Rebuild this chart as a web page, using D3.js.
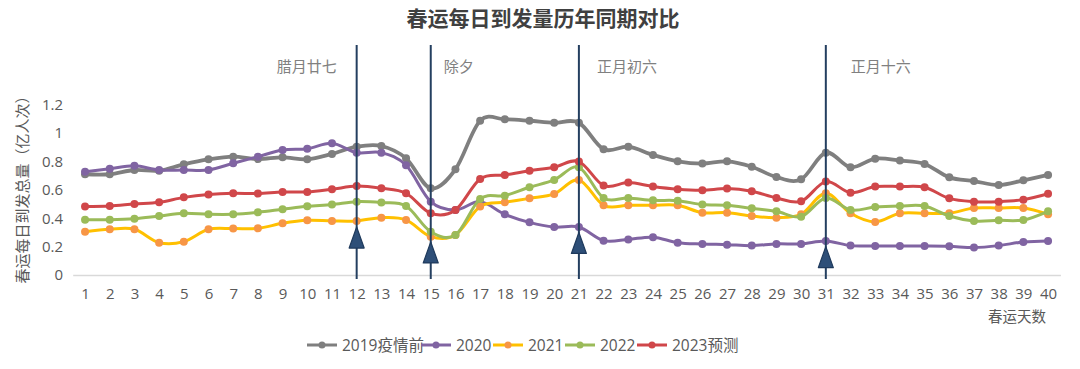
<!DOCTYPE html>
<html><head><meta charset="utf-8">
<script src="https://cdn.jsdelivr.net/npm/d3@7/dist/d3.min.js"></script>
<style>
html,body{margin:0;padding:0;background:#fff;}
svg{display:block;font-family:"Open Sans","Noto Sans CJK SC",sans-serif;}
</style></head>
<body><svg id="chart" width="1080" height="369"></svg>
<script>
const days = d3.range(1, 41);
const yTicks = [0, 0.2, 0.4, 0.6, 0.8, 1, 1.2];
const seriesNames = ["2019疫情前", "2020", "2021", "2022", "2023预测"];
const s2019 = [0.71,0.71,0.74,0.735,0.78,0.815,0.834,0.817,0.829,0.815,0.853,0.904,0.909,0.822,0.611,0.745,1.087,1.097,1.087,1.073,1.073,0.886,0.904,0.846,0.801,0.785,0.801,0.763,0.69,0.674,0.862,0.759,0.82,0.806,0.782,0.688,0.662,0.634,0.667,0.705];
const s2020 = [0.728,0.749,0.77,0.74,0.74,0.74,0.787,0.834,0.881,0.89,0.928,0.862,0.862,0.773,0.517,0.458,0.517,0.428,0.371,0.338,0.338,0.242,0.251,0.266,0.228,0.219,0.214,0.207,0.219,0.219,0.24,0.207,0.204,0.204,0.204,0.202,0.193,0.207,0.233,0.24];
const s2021 = [0.305,0.322,0.322,0.228,0.235,0.322,0.327,0.329,0.364,0.385,0.381,0.381,0.404,0.388,0.27,0.282,0.482,0.512,0.54,0.571,0.67,0.491,0.491,0.491,0.491,0.439,0.439,0.416,0.404,0.428,0.576,0.435,0.374,0.435,0.435,0.435,0.472,0.472,0.472,0.428];
const s2022 = [0.39,0.39,0.397,0.416,0.435,0.428,0.428,0.442,0.463,0.484,0.496,0.517,0.51,0.486,0.305,0.282,0.536,0.559,0.618,0.67,0.759,0.543,0.543,0.526,0.524,0.496,0.491,0.47,0.449,0.411,0.543,0.458,0.479,0.486,0.486,0.416,0.381,0.385,0.388,0.449];
const s2023 = [0.482,0.486,0.5,0.512,0.547,0.568,0.576,0.574,0.585,0.585,0.604,0.627,0.611,0.576,0.435,0.458,0.677,0.705,0.735,0.759,0.799,0.63,0.651,0.623,0.604,0.597,0.609,0.59,0.543,0.519,0.658,0.58,0.623,0.623,0.618,0.54,0.517,0.517,0.531,0.573];
const markerDays = [12, 15, 21, 31];
const markerLabels = ["腊月廿七", "除夕", "正月初六", "正月十六"];
const arrowTips = [0.338, 0.233, 0.30, 0.2];

const lineColors = ["#7f7f7f", "#8064a2", "#ffc000", "#9bbb59", "#d0474a"];
const dotColors  = ["#7f7f7f", "#8064a2", "#f79646", "#9bbb59", "#d0474a"];
const allSeries = [s2019, s2020, s2021, s2022, s2023];

const svg = d3.select("#chart");
const x = d3.scalePoint().domain(days).range([72.7, 1060.4]).padding(0.5);
const y = d3.scaleLinear().domain([0, 1.2]).range([275, 104.7]);

// title
svg.append("text").attr("x", 543).attr("y", 26).attr("text-anchor", "middle")
  .attr("font-size", 21).attr("font-weight", "bold").attr("fill", "#404040")
  .attr("font-family", "'Noto Sans CJK SC',sans-serif")
  .text("春运每日到发量历年同期对比");

// y axis
const yAxis = d3.axisLeft(y).tickValues(yTicks).tickSize(0).tickPadding(0)
  .tickFormat(d => String(+d.toFixed(1)));
const gy = svg.append("g").attr("transform", "translate(63,0)").call(yAxis);
gy.select(".domain").remove();
gy.selectAll("text").attr("font-size", 15).attr("fill", "#595959")
  .attr("font-family", "'Open Sans',sans-serif");

// x axis
const xAxis = d3.axisBottom(x).tickSize(0).tickPadding(13);
const gx = svg.append("g").attr("transform", "translate(0,275)").call(xAxis);
gx.select(".domain").attr("stroke", "#d9d9d9").attr("stroke-width", 1.5);
gx.selectAll("text").attr("font-size", 15).attr("fill", "#595959")
  .attr("font-family", "'Open Sans',sans-serif");

svg.append("text").attr("x", 1017).attr("y", 322).attr("text-anchor", "middle")
  .attr("font-size", 14.5).attr("fill", "#595959")
  .attr("font-family", "'Noto Sans CJK SC',sans-serif").text("春运天数");

svg.append("text").attr("transform", "translate(28,186) rotate(-90)")
  .attr("text-anchor", "middle").attr("font-size", 15).attr("fill", "#595959")
  .attr("font-family", "'Noto Sans CJK SC',sans-serif")
  .text("春运每日到发总量（亿人次）");

// series
const line = d3.line().x((d, i) => x(days[i])).y(d => y(d)).curve(d3.curveCardinal.tension(0));
allSeries.forEach((s, k) => {
  const g = svg.append("g");
  g.append("path").datum(s).attr("d", line).attr("fill", "none")
    .attr("stroke", lineColors[k]).attr("stroke-width", k === 0 ? 3.8 : 3)
    .attr("stroke-linejoin", "round");
  g.selectAll("circle").data(s).join("circle")
    .attr("cx", (d, i) => x(days[i])).attr("cy", d => y(d)).attr("r", 4)
    .attr("fill", dotColors[k]);
});

// vertical markers
markerDays.forEach((d, i) => {
  const xx = x(d);
  svg.append("line").attr("x1", xx).attr("x2", xx).attr("y1", 45).attr("y2", 279)
    .attr("stroke", "#243f60").attr("stroke-width", 2);
  const tip = y(arrowTips[i]);
  svg.append("path")
    .attr("d", `M${xx},${tip} L${xx + 7.5},${tip + 21} L${xx - 7.5},${tip + 21} Z`)
    .attr("fill", "#2e4f78").attr("stroke", "#1f3a5c").attr("stroke-width", 1.2)
    .attr("stroke-linejoin", "round");
  const t = svg.append("text").attr("y", 72).attr("font-size", 15).attr("fill", "#808080")
    .attr("font-family", "'Noto Sans CJK SC',sans-serif").text(markerLabels[i]);
  if (i === 0) t.attr("x", xx - 20).attr("text-anchor", "end");
  else t.attr("x", xx + [0, 13, 18, 25][i]);
});

// legend
const legendX = [307, 421, 493, 565, 637];
const lg = svg.append("g");
seriesNames.forEach((n, k) => {
  const lx = legendX[k], ly = 345;
  lg.append("line").attr("x1", lx).attr("x2", lx + 30).attr("y1", ly).attr("y2", ly)
    .attr("stroke", lineColors[k]).attr("stroke-width", 3);
  lg.append("circle").attr("cx", lx + 15).attr("cy", ly).attr("r", 3.5).attr("fill", dotColors[k]);
  lg.append("text").attr("x", lx + 35).attr("y", ly + 5.5).attr("font-size", 15.5)
    .attr("fill", "#595959").attr("font-family", "'Open Sans','Noto Sans CJK SC',sans-serif").text(n);
});
</script></body></html>
